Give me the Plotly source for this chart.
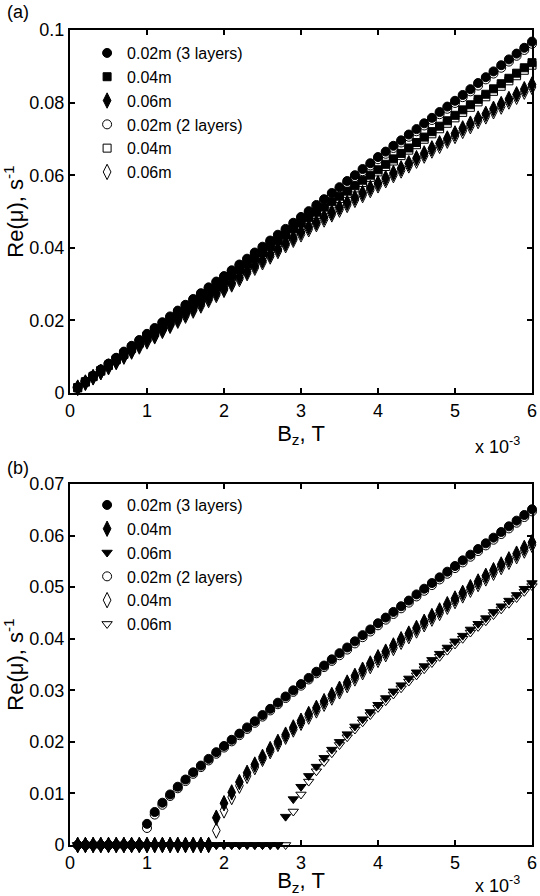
import plotly.graph_objects as go

# magnetic field, in units of 1e-3 T (axis shows "x 10^-3")
bz = [0.1, 0.2, 0.3, 0.4, 0.5, 0.6, 0.7, 0.8, 0.9, 1.0,
      1.1, 1.2, 1.3, 1.4, 1.5, 1.6, 1.7, 1.8, 1.9, 2.0,
      2.1, 2.2, 2.3, 2.4, 2.5, 2.6, 2.7, 2.8, 2.9, 3.0,
      3.1, 3.2, 3.3, 3.4, 3.5, 3.6, 3.7, 3.8, 3.9, 4.0,
      4.1, 4.2, 4.3, 4.4, 4.5, 4.6, 4.7, 4.8, 4.9, 5.0,
      5.1, 5.2, 5.3, 5.4, 5.5, 5.6, 5.7, 5.8, 5.9, 6.0]

# ---- panel (a) ----
a_3l_002 = [0.0016, 0.0032, 0.0048, 0.0065, 0.0081, 0.0097, 0.0114, 0.0130, 0.0146, 0.0163,
            0.0179, 0.0195, 0.0211, 0.0227, 0.0243, 0.0259, 0.0275, 0.0291, 0.0307, 0.0322,
            0.0338, 0.0354, 0.0370, 0.0387, 0.0403, 0.0420, 0.0436, 0.0452, 0.0469, 0.0485,
            0.0501, 0.0518, 0.0534, 0.0551, 0.0567, 0.0584, 0.0600, 0.0617, 0.0633, 0.0650,
            0.0665, 0.0681, 0.0696, 0.0712, 0.0727, 0.0743, 0.0758, 0.0774, 0.0789, 0.0805,
            0.0821, 0.0837, 0.0854, 0.0870, 0.0886, 0.0903, 0.0919, 0.0935, 0.0951, 0.0968]
a_3l_004 = [0.0015, 0.0031, 0.0046, 0.0062, 0.0077, 0.0093, 0.0108, 0.0124, 0.0139, 0.0155,
            0.0170, 0.0185, 0.0200, 0.0216, 0.0231, 0.0246, 0.0261, 0.0277, 0.0292, 0.0308,
            0.0324, 0.0339, 0.0355, 0.0371, 0.0387, 0.0403, 0.0419, 0.0435, 0.0452, 0.0468,
            0.0483, 0.0498, 0.0512, 0.0527, 0.0542, 0.0556, 0.0571, 0.0586, 0.0600, 0.0615,
            0.0630, 0.0645, 0.0660, 0.0675, 0.0690, 0.0705, 0.0720, 0.0735, 0.0750, 0.0765,
            0.0780, 0.0794, 0.0809, 0.0823, 0.0838, 0.0852, 0.0867, 0.0881, 0.0896, 0.0910]
a_3l_006 = [0.0015, 0.0029, 0.0044, 0.0058, 0.0073, 0.0087, 0.0102, 0.0116, 0.0131, 0.0145,
            0.0159, 0.0174, 0.0188, 0.0202, 0.0217, 0.0231, 0.0245, 0.0260, 0.0274, 0.0288,
            0.0303, 0.0319, 0.0334, 0.0350, 0.0365, 0.0381, 0.0396, 0.0412, 0.0427, 0.0443,
            0.0457, 0.0470, 0.0484, 0.0497, 0.0511, 0.0524, 0.0538, 0.0551, 0.0565, 0.0578,
            0.0592, 0.0606, 0.0619, 0.0633, 0.0647, 0.0660, 0.0674, 0.0688, 0.0701, 0.0715,
            0.0729, 0.0742, 0.0756, 0.0769, 0.0783, 0.0796, 0.0810, 0.0823, 0.0837, 0.0850]
a_2l_002 = [0.0015, 0.0031, 0.0047, 0.0064, 0.0080, 0.0096, 0.0112, 0.0128, 0.0144, 0.0161,
            0.0177, 0.0193, 0.0208, 0.0224, 0.0240, 0.0256, 0.0272, 0.0288, 0.0304, 0.0319,
            0.0335, 0.0351, 0.0367, 0.0383, 0.0399, 0.0416, 0.0432, 0.0448, 0.0464, 0.0480,
            0.0496, 0.0513, 0.0529, 0.0546, 0.0562, 0.0578, 0.0595, 0.0611, 0.0627, 0.0644,
            0.0659, 0.0675, 0.0690, 0.0706, 0.0721, 0.0737, 0.0752, 0.0768, 0.0783, 0.0799,
            0.0815, 0.0831, 0.0847, 0.0864, 0.0880, 0.0896, 0.0913, 0.0929, 0.0945, 0.0962]
a_2l_004 = [0.0014, 0.0030, 0.0045, 0.0060, 0.0076, 0.0091, 0.0106, 0.0122, 0.0137, 0.0152,
            0.0167, 0.0182, 0.0197, 0.0213, 0.0228, 0.0243, 0.0258, 0.0273, 0.0288, 0.0304,
            0.0320, 0.0335, 0.0351, 0.0366, 0.0382, 0.0398, 0.0414, 0.0430, 0.0446, 0.0462,
            0.0477, 0.0492, 0.0506, 0.0521, 0.0536, 0.0550, 0.0565, 0.0580, 0.0594, 0.0609,
            0.0624, 0.0639, 0.0654, 0.0669, 0.0684, 0.0699, 0.0714, 0.0728, 0.0743, 0.0758,
            0.0773, 0.0787, 0.0802, 0.0816, 0.0831, 0.0845, 0.0860, 0.0874, 0.0889, 0.0903]
a_2l_006 = [0.0014, 0.0028, 0.0043, 0.0057, 0.0071, 0.0085, 0.0100, 0.0114, 0.0128, 0.0142,
            0.0156, 0.0171, 0.0185, 0.0199, 0.0213, 0.0227, 0.0241, 0.0256, 0.0270, 0.0284,
            0.0299, 0.0314, 0.0330, 0.0345, 0.0360, 0.0376, 0.0391, 0.0407, 0.0422, 0.0437,
            0.0451, 0.0465, 0.0478, 0.0492, 0.0505, 0.0518, 0.0532, 0.0545, 0.0559, 0.0572,
            0.0586, 0.0600, 0.0613, 0.0627, 0.0640, 0.0654, 0.0668, 0.0681, 0.0695, 0.0708,
            0.0722, 0.0735, 0.0749, 0.0762, 0.0776, 0.0789, 0.0803, 0.0816, 0.0830, 0.0843]

# ---- panel (b) ----
b_3l_002 = [0, 0, 0, 0, 0, 0, 0, 0, 0, 0.0041,
            0.0064, 0.0082, 0.0098, 0.0113, 0.0127, 0.0141, 0.0154, 0.0167, 0.0180, 0.0192,
            0.0204, 0.0216, 0.0228, 0.0240, 0.0252, 0.0264, 0.0276, 0.0288, 0.0300, 0.0312,
            0.0324, 0.0336, 0.0348, 0.0360, 0.0372, 0.0383, 0.0395, 0.0407, 0.0418, 0.0430,
            0.0441, 0.0452, 0.0463, 0.0474, 0.0486, 0.0497, 0.0508, 0.0519, 0.0530, 0.0541,
            0.0552, 0.0563, 0.0574, 0.0585, 0.0596, 0.0607, 0.0618, 0.0629, 0.0640, 0.0651]
b_3l_004 = [0, 0, 0, 0, 0, 0, 0, 0, 0, 0,
            0, 0, 0, 0, 0, 0, 0, 0, 0.0053, 0.0081,
            0.0102, 0.0122, 0.0140, 0.0156, 0.0171, 0.0186, 0.0200, 0.0214, 0.0228, 0.0241,
            0.0254, 0.0266, 0.0279, 0.0291, 0.0303, 0.0315, 0.0328, 0.0340, 0.0352, 0.0364,
            0.0375, 0.0387, 0.0399, 0.0410, 0.0421, 0.0433, 0.0444, 0.0455, 0.0467, 0.0478,
            0.0489, 0.0500, 0.0511, 0.0522, 0.0533, 0.0544, 0.0554, 0.0565, 0.0576, 0.0587]
b_3l_006 = [0, 0, 0, 0, 0, 0, 0, 0, 0, 0,
            0, 0, 0, 0, 0, 0, 0, 0, 0, 0,
            0, 0, 0, 0, 0, 0, 0, 0.0055, 0.0089, 0.0113,
            0.0134, 0.0152, 0.0169, 0.0185, 0.0200, 0.0215, 0.0230, 0.0244, 0.0258, 0.0272,
            0.0285, 0.0298, 0.0310, 0.0323, 0.0335, 0.0347, 0.0359, 0.0371, 0.0383, 0.0395,
            0.0406, 0.0418, 0.0429, 0.0440, 0.0452, 0.0463, 0.0474, 0.0485, 0.0497, 0.0508]
b_2l_002 = [0, 0, 0, 0, 0, 0, 0, 0, 0, 0.0033,
            0.0059, 0.0078, 0.0095, 0.0110, 0.0124, 0.0138, 0.0151, 0.0164, 0.0177, 0.0189,
            0.0201, 0.0213, 0.0225, 0.0237, 0.0249, 0.0261, 0.0273, 0.0285, 0.0297, 0.0309,
            0.0321, 0.0333, 0.0345, 0.0357, 0.0368, 0.0379, 0.0391, 0.0403, 0.0414, 0.0426,
            0.0437, 0.0448, 0.0459, 0.0470, 0.0482, 0.0493, 0.0504, 0.0515, 0.0526, 0.0537,
            0.0548, 0.0559, 0.0570, 0.0581, 0.0592, 0.0603, 0.0614, 0.0625, 0.0636, 0.0647]
b_2l_004 = [0, 0, 0, 0, 0, 0, 0, 0, 0, 0,
            0, 0, 0, 0, 0, 0, 0, 0, 0.0028, 0.0067,
            0.0093, 0.0115, 0.0134, 0.0151, 0.0167, 0.0182, 0.0196, 0.0210, 0.0224, 0.0237,
            0.0249, 0.0261, 0.0274, 0.0286, 0.0298, 0.0310, 0.0323, 0.0335, 0.0347, 0.0359,
            0.0370, 0.0382, 0.0394, 0.0405, 0.0416, 0.0428, 0.0439, 0.0450, 0.0462, 0.0473,
            0.0484, 0.0495, 0.0506, 0.0517, 0.0528, 0.0539, 0.0549, 0.0560, 0.0571, 0.0582]
b_2l_006 = [0, 0, 0, 0, 0, 0, 0, 0, 0, 0,
            0, 0, 0, 0, 0, 0, 0, 0, 0, 0,
            0, 0, 0, 0, 0, 0, 0, 0, 0.0065, 0.0098,
            0.0123, 0.0143, 0.0161, 0.0178, 0.0194, 0.0209, 0.0224, 0.0238, 0.0252, 0.0266,
            0.0279, 0.0292, 0.0304, 0.0317, 0.0329, 0.0341, 0.0353, 0.0365, 0.0377, 0.0389,
            0.0400, 0.0412, 0.0423, 0.0434, 0.0446, 0.0457, 0.0468, 0.0479, 0.0491, 0.0502]

FONT = "Liberation Sans, Arial, sans-serif"

fig = go.Figure()


def add_series(y, name, symbol, xa, ya, legend, rank, size=9):
    fig.add_trace(go.Scatter(
        x=bz, y=y, mode="markers", name=name,
        xaxis=xa, yaxis=ya, legend=legend, legendrank=rank,
        cliponaxis=False,
        marker=dict(symbol=symbol, size=size, color="black",
                    line=dict(color="black", width=1)),
    ))


# panel (a)
add_series(a_3l_002, "0.02m (3 layers)", "circle", "x", "y", "legend", 1)
add_series(a_3l_004, "0.04m", "square", "x", "y", "legend", 2, size=8)
add_series(a_3l_006, "0.06m", "diamond-tall", "x", "y", "legend", 3, size=11)
add_series(a_2l_002, "0.02m (2 layers)", "circle-open", "x", "y", "legend", 4)
add_series(a_2l_004, "0.04m", "square-open", "x", "y", "legend", 5, size=8)
add_series(a_2l_006, "0.06m", "diamond-tall-open", "x", "y", "legend", 6, size=11)

# panel (b) - triangles drawn before diamonds so the zero row shows diamonds
add_series(b_3l_002, "0.02m (3 layers)", "circle", "x2", "y2", "legend2", 1)
add_series(b_3l_006, "0.06m", "triangle-down", "x2", "y2", "legend2", 3)
add_series(b_3l_004, "0.04m", "diamond-tall", "x2", "y2", "legend2", 2, size=11)
add_series(b_2l_002, "0.02m (2 layers)", "circle-open", "x2", "y2", "legend2", 4)
add_series(b_2l_006, "0.06m", "triangle-down-open", "x2", "y2", "legend2", 6)
add_series(b_2l_004, "0.04m", "diamond-tall-open", "x2", "y2", "legend2", 5, size=11)

axis_style = dict(
    showline=True, linecolor="black", linewidth=2, mirror="ticks",
    ticks="inside", ticklen=5, tickwidth=1.5, tickcolor="black",
    showgrid=False, zeroline=False, automargin=False,
    tickfont=dict(family=FONT, size=18, color="black"),
)

legend_style = dict(xanchor="left", yanchor="top", bgcolor="rgba(0,0,0,0)",
                    font=dict(family=FONT, size=16, color="black"))

fig.update_layout(
    width=540, height=896,
    margin=dict(l=70, r=8, t=30, b=51),
    paper_bgcolor="white", plot_bgcolor="white",
    font=dict(family=FONT, size=18, color="black"),
    xaxis=dict(domain=[0, 1], anchor="y", range=[0, 6], dtick=1,
               title=dict(text="B<sub>z</sub>, T", standoff=0), **axis_style),
    yaxis=dict(domain=[0.5546, 1], anchor="x", range=[0, 0.1], dtick=0.02,
               title=dict(text="Re(μ), s<sup>-1</sup>", standoff=6), **axis_style),
    xaxis2=dict(domain=[0, 1], anchor="y2", range=[0, 6], dtick=1,
                title=dict(text="B<sub>z</sub>, T", standoff=0), **axis_style),
    yaxis2=dict(domain=[0, 0.4429], anchor="x2", range=[0, 0.07], dtick=0.01,
                title=dict(text="Re(μ), s<sup>-1</sup>", standoff=6), **axis_style),
    legend=dict(x=0.037, y=0.9926, **legend_style),
    legend2=dict(x=0.037, y=0.438, **legend_style),
    showlegend=True,
)

# panel labels and the MATLAB-style exponent note
fig.add_annotation(text="(a)", xref="paper", yref="paper", x=-0.141, y=1.0225,
                   xanchor="left", yanchor="middle", showarrow=False, font=dict(size=18))
fig.add_annotation(text="(b)", xref="paper", yref="paper", x=-0.141, y=0.4626,
                   xanchor="left", yanchor="middle", showarrow=False, font=dict(size=18))
fig.add_annotation(text="x 10<sup>-3</sup>", xref="paper", yref="paper", x=0.978, y=0.49,
                   xanchor="right", yanchor="middle", showarrow=False, font=dict(size=18))
fig.add_annotation(text="x 10<sup>-3</sup>", xref="paper", yref="paper", x=0.978, y=-0.049,
                   xanchor="right", yanchor="middle", showarrow=False, font=dict(size=18))

# the page body has a default 8px margin; drop it so the 540x896 figure fits the window
fig.write_html("out.html", config={"displayModeBar": False},
               post_script="document.body.style.margin = '0px';")
